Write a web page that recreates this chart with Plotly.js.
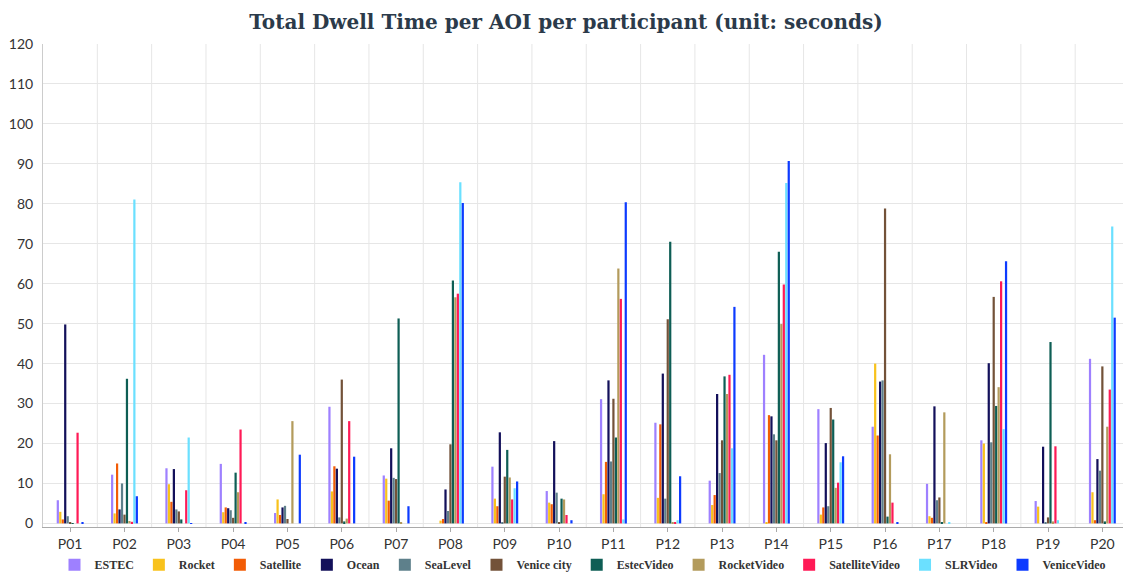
<!DOCTYPE html>
<html>
<head>
<meta charset="utf-8">
<script src="https://cdn.plot.ly/plotly-3.0.1.min.js"></script>
<style>html,body{margin:0;padding:0;background:#fff;}#chart{width:1123px;height:580px;}</style>
</head>
<body>
<div id="chart"></div>
<script>
const participants = ["P01","P02","P03","P04","P05","P06","P07","P08","P09","P10","P11","P12","P13","P14","P15","P16","P17","P18","P19","P20"];

const ESTEC          = [5.8, 12.2, 13.8, 14.9, 2.6, 29.2, 12.0, 0, 14.2, 8.1, 31.1, 25.2, 10.7, 42.2, 28.6, 24.2, 9.9, 20.8, 5.6, 41.2];
const Rocket         = [2.9, 2.5, 9.8, 2.8, 6.0, 8.0, 11.2, 0.7, 6.2, 5.2, 7.3, 6.4, 4.6, 0.3, 2.2, 40.0, 1.8, 20.0, 4.2, 7.8];
const Satellite      = [1.0, 15.0, 5.4, 4.0, 2.1, 14.3, 5.7, 1.1, 4.3, 4.8, 15.4, 24.8, 7.1, 27.1, 4.0, 22.0, 1.4, 0.3, 0, 0.8];
const Ocean          = [49.8, 3.5, 13.6, 3.8, 4.0, 13.7, 18.8, 8.5, 22.8, 20.6, 35.8, 37.5, 32.4, 26.8, 20.1, 35.5, 29.3, 40.1, 19.2, 16.1];
const SeaLevel       = [1.8, 10.0, 3.5, 3.3, 4.4, 1.5, 11.4, 3.1, 0.3, 7.7, 15.5, 6.2, 12.6, 22.3, 4.3, 35.8, 5.8, 20.3, 0.3, 13.2];
const VeniceCity     = [0.2, 2.2, 3.0, 1.4, 1.1, 36.0, 11.1, 19.8, 11.7, 0.3, 31.2, 51.1, 20.8, 20.8, 28.9, 78.8, 6.5, 56.7, 1.5, 39.3];
const EstecVideo     = [0.1, 36.2, 1.0, 12.7, 0, 0.5, 51.3, 60.8, 18.4, 6.2, 21.5, 70.5, 36.8, 68.0, 26.0, 1.7, 0.2, 29.4, 45.4, 0.5];
const RocketVideo    = [0, 0.6, 0, 7.8, 25.6, 1.2, 0.3, 56.6, 11.5, 6.0, 63.8, 0.3, 32.4, 49.9, 8.9, 17.3, 27.8, 34.1, 0.5, 24.2];
const SatelliteVideo = [22.7, 0.4, 8.3, 23.5, 0, 25.6, 0, 57.5, 6.0, 2.1, 56.2, 0.3, 37.2, 59.8, 10.2, 5.2, 0, 60.6, 19.3, 33.5];
const SLRVideo       = [0, 81.1, 21.5, 0, 0, 0, 0, 85.4, 8.8, 0, 1.0, 0.8, 18.8, 85.2, 15.3, 0, 0.2, 23.6, 0.8, 74.3];
const VeniceVideo    = [0.3, 6.8, 0.1, 0.3, 17.2, 16.7, 4.3, 80.2, 10.5, 0.8, 80.4, 11.8, 54.2, 90.7, 16.8, 0.3, 0, 65.6, 0, 51.5];

const seriesNames = ["ESTEC","Rocket","Satellite","Ocean","SeaLevel","Venice city","EstecVideo","RocketVideo","SatelliteVideo","SLRVideo","VeniceVideo"];
const seriesValues = [ESTEC, Rocket, Satellite, Ocean, SeaLevel, VeniceCity, EstecVideo, RocketVideo, SatelliteVideo, SLRVideo, VeniceVideo];
const seriesColors = ["#9E80FF","#F8C21C","#F25C06","#13105A","#5E808B","#735239","#0E5E55","#B39B5C","#FF1A56","#6BE0FF","#0D3BFF"];

const yTicks = [0,10,20,30,40,50,60,70,80,90,100,110,120];

const traces = seriesNames.map((name, i) => ({
  type: 'bar',
  name: name,
  x: participants,
  y: seriesValues[i],
  marker: {color: seriesColors[i], line: {width: 0}},
  hoverinfo: 'x+y+name'
}));

// vertical gridlines at category boundaries
const shapes = [];
for (let k = 0; k < participants.length - 1; k++) {
  shapes.push({type:'line', xref:'x', yref:'paper', x0:k+0.5, x1:k+0.5, y0:0, y1:1,
    line:{color:'#e6e6e6', width:1}, layer:'below'});
}

const layout = {
  width: 1123, height: 580,
  margin: {l: 43, r: 0, t: 44, b: 53},
  paper_bgcolor: '#ffffff', plot_bgcolor: '#ffffff',
  title: {
    text: 'Total Dwell Time per AOI per participant (unit: seconds)',
    x: 0.504, xanchor: 'center', y: 0.962, yanchor: 'middle',
    font: {family: 'DejaVu Serif', size: 20, color: '#2b3a4a', weight: 'bold'}
  },
  barmode: 'group',
  bargap: 0.5,
  bargroupgap: 0.1,
  xaxis: {
    type: 'category',
    range: [-0.5, 19.38],
    showgrid: false,
    showline: true, linecolor: '#aaaaaa', linewidth: 1,
    ticks: 'outside', ticklen: 4, tickcolor: '#aaaaaa',
    tickfont: {family: 'Lato', size: 14, color: '#333333'},
    fixedrange: true
  },
  yaxis: {
    range: [-0.9, 120],
    tickvals: yTicks,
    showgrid: true, gridcolor: '#e6e6e6', gridwidth: 1,
    zeroline: false,
    showline: true, linecolor: '#cccccc', linewidth: 1,
    ticks: '', ticklabelstandoff: 6,
    tickfont: {family: 'Lato', size: 14, color: '#333333'},
    fixedrange: true
  },
  shapes: shapes,
  showlegend: true,
  legend: {
    orientation: 'h', x: 0.5, xanchor: 'center', y: -0.078, yanchor: 'middle',
    font: {family: 'Liberation Serif', size: 12, color: '#333333', weight: 'bold'},
    itemwidth: 30, traceorder: 'normal'
  }
};

Plotly.newPlot('chart', traces, layout, {displayModeBar: false, responsive: false});
</script>
</body>
</html>
